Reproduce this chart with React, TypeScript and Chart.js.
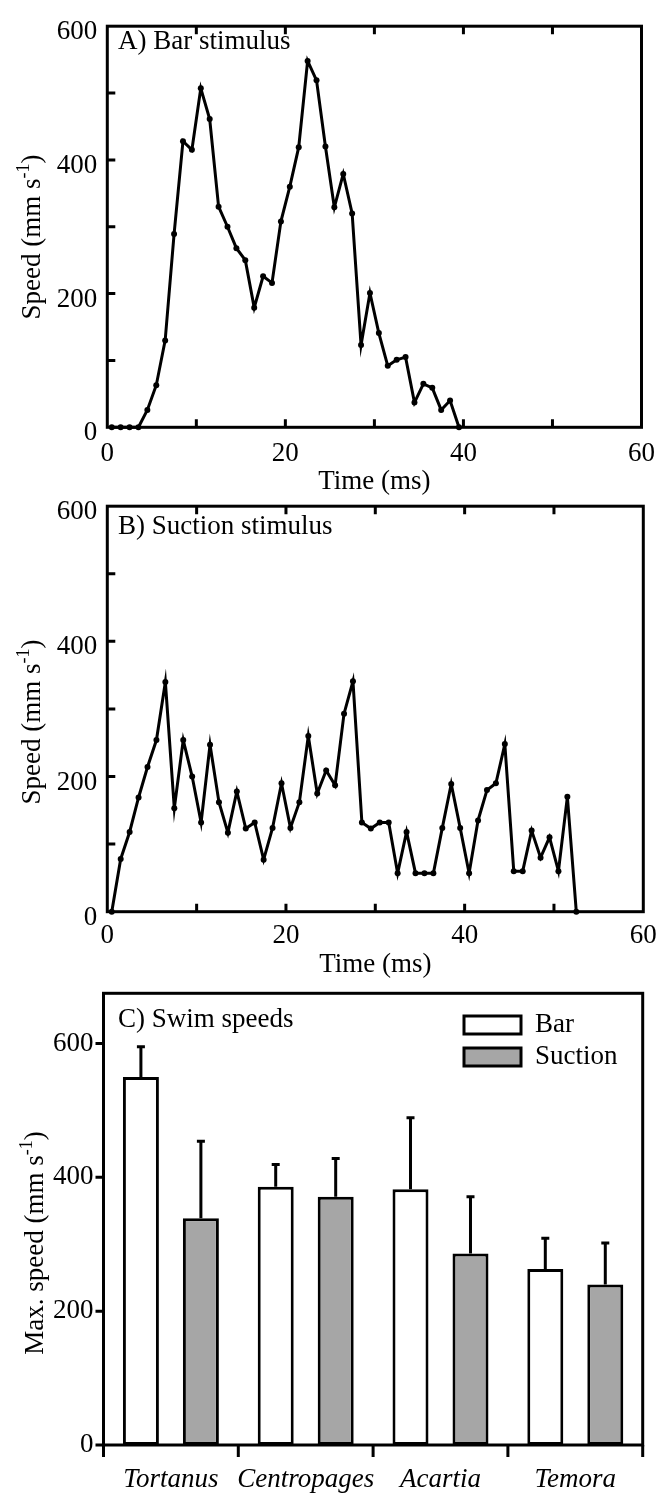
import React, { useEffect, useRef } from 'react';
import { Chart, registerables } from 'chart.js';

Chart.register(...registerables);

const FONT = "'Liberation Serif', 'Times New Roman', Times, serif";

// Panel A: bar stimulus (time in ms, speed in mm/s)
const timeA = [0.5, 1.5, 2.5, 3.5, 4.5, 5.5, 6.5, 7.5, 8.5, 9.5, 10.5, 11.5, 12.5, 13.5, 14.5, 15.5, 16.5, 17.5, 18.5, 19.5, 20.5, 21.5, 22.5, 23.5, 24.5, 25.5, 26.5, 27.5, 28.5, 29.5, 30.5, 31.5, 32.5, 33.5, 34.5, 35.5, 36.5, 37.5, 38.5, 39.5];
const speedA = [0, 0, 0, 0, 26, 63, 130, 289, 428, 415, 507, 461, 330, 300, 268, 250, 179, 226, 216, 308, 360, 419, 548, 519, 420, 329, 379, 320, 123, 201, 141, 92, 101, 105, 37, 65, 59, 26, 40, 0];

// Panel B: suction stimulus
const timeB = [0.5, 1.5, 2.5, 3.5, 4.5, 5.5, 6.5, 7.5, 8.5, 9.5, 10.5, 11.5, 12.5, 13.5, 14.5, 15.5, 16.5, 17.5, 18.5, 19.5, 20.5, 21.5, 22.5, 23.5, 24.5, 25.5, 26.5, 27.5, 28.5, 29.5, 30.5, 31.5, 32.5, 33.5, 34.5, 35.5, 36.5, 37.5, 38.5, 39.5, 40.5, 41.5, 42.5, 43.5, 44.5, 45.5, 46.5, 47.5, 48.5, 49.5, 50.5, 51.5, 52.5];
const speedB = [0, 78, 118, 169, 214, 254, 340, 153, 254, 200, 132, 247, 162, 117, 178, 123, 132, 77, 124, 190, 124, 162, 260, 175, 209, 187, 293, 341, 132, 123, 132, 132, 57, 118, 57, 57, 57, 124, 189, 124, 57, 135, 180, 190, 248, 60, 60, 120, 80, 110, 60, 170, 0];

// Panel C: max swim speeds
const species = ['Tortanus', 'Centropages', 'Acartia', 'Temora'];
const barMean = [550, 386, 382, 263];
const barSD = [45, 33, 107, 46];
const suctionMean = [339, 371, 286, 240];
const suctionSD = [115, 57, 85, 62];

const W = 665;

const decorPlugin = {
  id: 'decor',
  afterDatasetsDraw(chart: any, _args: any, opts: any) {
    if (!opts || !opts.mode) return;
    const ctx = chart.ctx as CanvasRenderingContext2D;
    const { left, right, top, bottom } = chart.chartArea;
    const xs = chart.scales.x;
    const ys = chart.scales.y;
    ctx.save();
    ctx.strokeStyle = '#000';
    ctx.fillStyle = '#000';
    ctx.lineWidth = 3;
    ctx.lineCap = 'butt';

    if (opts.mode === 'bar') {
      // error bars (upper only)
      chart.data.datasets.forEach((ds: any, di: number) => {
        const meta = chart.getDatasetMeta(di);
        const sds = opts.errors[di];
        meta.data.forEach((el: any, i: number) => {
          const x = el.x;
          const y0 = el.y;
          const y1 = ys.getPixelForValue(ds.data[i] + sds[i]);
          ctx.beginPath();
          ctx.moveTo(x, y0);
          ctx.lineTo(x, y1);
          ctx.moveTo(x - 4, y1);
          ctx.lineTo(x + 4, y1);
          ctx.stroke();
        });
      });
    }

    // frame
    ctx.lineWidth = 3;
    ctx.strokeRect(left, top, right - left, bottom - top);
    ctx.beginPath();
    if (opts.mode === 'line') {
      xs.ticks.forEach((t: any) => {
        const px = xs.getPixelForValue(t.value);
        if (px <= left + 1 || px >= right - 1) return;
        ctx.moveTo(px, bottom);
        ctx.lineTo(px, bottom - 8);
        ctx.moveTo(px, top);
        ctx.lineTo(px, top + 8);
      });
      ys.ticks.forEach((t: any) => {
        const py = ys.getPixelForValue(t.value);
        if (py >= bottom - 1 || py <= top + 1) return;
        ctx.moveTo(left, py);
        ctx.lineTo(left + 8, py);
      });
    } else {
      ys.ticks.forEach((t: any) => {
        const py = ys.getPixelForValue(t.value);
        ctx.moveTo(left, py);
        ctx.lineTo(left - 8, py);
      });
      const n = chart.data.labels.length;
      const cw = (right - left) / n;
      for (let i = 0; i <= n; i++) {
        const px = left + i * cw;
        ctx.moveTo(px, bottom);
        ctx.lineTo(px, bottom + 12);
      }
    }
    ctx.stroke();

    // panel label
    ctx.font = `27px ${FONT}`;
    ctx.textAlign = 'left';
    ctx.textBaseline = 'middle';
    ctx.fillText(opts.label, opts.labelX, opts.labelY);

    // y title with superscript
    const t = opts.yTitle;
    ctx.save();
    ctx.translate(t.x, t.y);
    ctx.rotate(-Math.PI / 2);
    const mainFont = `27px ${FONT}`;
    const supFont = `18px ${FONT}`;
    ctx.font = mainFont;
    const w1 = ctx.measureText(t.main).width;
    const w3 = ctx.measureText(t.tail).width;
    ctx.font = supFont;
    const w2 = ctx.measureText(t.sup).width;
    let x0 = -(w1 + w2 + w3) / 2;
    ctx.textAlign = 'left';
    ctx.textBaseline = 'middle';
    ctx.font = mainFont;
    ctx.fillText(t.main, x0, 0);
    x0 += w1;
    ctx.font = supFont;
    ctx.fillText(t.sup, x0, -9);
    x0 += w2;
    ctx.font = mainFont;
    ctx.fillText(t.tail, x0, 0);
    ctx.restore();

    // legend
    if (opts.legend) {
      opts.legend.forEach((item: any) => {
        ctx.fillStyle = item.fill;
        ctx.fillRect(item.x, item.y - 9, 57, 18);
        ctx.strokeStyle = '#000';
        ctx.lineWidth = 3;
        ctx.strokeRect(item.x, item.y - 9, 57, 18);
        ctx.fillStyle = '#000';
        ctx.font = `27px ${FONT}`;
        ctx.textAlign = 'left';
        ctx.textBaseline = 'middle';
        ctx.fillText(item.text, item.x + 71, item.y);
      });
    }
    ctx.restore();
  },
};

function lineConfig(times: number[], speeds: number[], L: any): any {
  return {
    type: 'line',
    data: {
      datasets: [
        {
          data: times.map((t, i) => ({ x: t, y: speeds[i] })),
          borderColor: '#000',
          borderWidth: 3,
          pointRadius: 3,
          pointBackgroundColor: '#000',
          pointBorderWidth: 0,
          tension: 0,
          clip: false,
        },
      ],
    },
    options: {
      animation: false,
      responsive: false,
      events: [],
      layout: { padding: { left: 0, right: W - 643.3, top: L.top, bottom: 0 } },
      plugins: {
        legend: { display: false },
        tooltip: { enabled: false },
        decor: {
          mode: 'line',
          label: L.label,
          labelX: 118,
          labelY: L.labelY,
          yTitle: { x: 33, y: L.titleY, main: 'Speed (mm s', sup: '-1', tail: ')' },
        },
      },
      scales: {
        x: {
          type: 'linear',
          min: 0,
          max: 60,
          grid: { display: false, drawTicks: false },
          border: { display: false },
          ticks: {
            stepSize: 10,
            autoSkip: false,
            maxRotation: 0,
            padding: L.xPad,
            color: '#000',
            font: { family: FONT, size: 27 },
            callback: (v: number) => (v % 20 === 0 ? String(v) : ''),
          },
          title: {
            display: true,
            text: 'Time (ms)',
            color: '#000',
            font: { family: FONT, size: 27 },
            padding: { top: 0, bottom: L.titlePad },
          },
          afterFit: (s: any) => {
            s.height = L.xHeight;
          },
        },
        y: {
          type: 'linear',
          min: 0,
          max: 600,
          grid: { display: false, drawTicks: false },
          border: { display: false },
          ticks: {
            stepSize: 100,
            autoSkip: false,
            padding: 10,
            labelOffset: 6,
            color: '#000',
            font: { family: FONT, size: 27 },
            callback: (v: number) => (v % 200 === 0 ? String(v) : ''),
          },
          afterFit: (s: any) => {
            s.width = 107.3;
          },
        },
      },
    },
    plugins: [decorPlugin],
  };
}

function barConfig(): any {
  return {
    type: 'bar',
    data: {
      labels: species,
      datasets: [
        {
          label: 'Bar',
          data: barMean,
          backgroundColor: '#ffffff',
          borderColor: '#000',
          borderWidth: 3,
          borderSkipped: false,
          categoryPercentage: 0.89,
          barPercentage: 0.6,
        },
        {
          label: 'Suction',
          data: suctionMean,
          backgroundColor: '#a6a6a6',
          borderColor: '#000',
          borderWidth: 3,
          borderSkipped: false,
          categoryPercentage: 0.89,
          barPercentage: 0.6,
        },
      ],
    },
    options: {
      animation: false,
      responsive: false,
      events: [],
      layout: { padding: { left: 0, right: W - 642.7, top: 33.3, bottom: 0 } },
      plugins: {
        legend: { display: false },
        tooltip: { enabled: false },
        decor: {
          mode: 'bar',
          errors: [barSD, suctionSD],
          label: 'C) Swim speeds',
          labelX: 118,
          labelY: 60,
          yTitle: { x: 36, y: 283, main: 'Max. speed (mm s', sup: '-1', tail: ')' },
          legend: [
            { text: 'Bar', fill: '#ffffff', x: 464, y: 65 },
            { text: 'Suction', fill: '#a6a6a6', x: 464, y: 97 },
          ],
        },
      },
      scales: {
        x: {
          type: 'category',
          grid: { display: false, drawTicks: false },
          border: { display: false },
          ticks: {
            autoSkip: false,
            maxRotation: 0,
            padding: 19,
            color: '#000',
            font: { family: FONT, size: 27, style: 'italic' },
          },
          afterFit: (s: any) => {
            s.height = 48;
          },
        },
        y: {
          type: 'linear',
          min: 0,
          max: 675,
          grid: { display: false, drawTicks: false },
          border: { display: false },
          ticks: {
            stepSize: 200,
            autoSkip: false,
            padding: 10,
            color: '#000',
            font: { family: FONT, size: 27 },
          },
          afterBuildTicks: (s: any) => {
            s.ticks = s.ticks.filter((t: any) => t.value % 200 === 0);
          },
          afterFit: (s: any) => {
            s.width = 103.5;
          },
        },
      },
    },
    plugins: [decorPlugin],
  };
}

export default function App() {
  const refA = useRef<HTMLCanvasElement>(null);
  const refB = useRef<HTMLCanvasElement>(null);
  const refC = useRef<HTMLCanvasElement>(null);

  useEffect(() => {
    const a = new Chart(
      refA.current as HTMLCanvasElement,
      lineConfig(timeA, speedA, {
        top: 13.3,
        xHeight: 500 - 427.3,
        xPad: 10,
        titlePad: 1.4,
        label: 'A) Bar stimulus',
        labelY: 42,
        titleY: 237,
      })
    );
    const b = new Chart(
      refB.current as HTMLCanvasElement,
      lineConfig(timeB, speedB, {
        top: 18.3,
        xHeight: 510 - 431.7,
        xPad: 8,
        titlePad: 8.4,
        label: 'B) Suction stimulus',
        labelY: 47,
        titleY: 242,
      })
    );
    const c = new Chart(refC.current as HTMLCanvasElement, barConfig());
    return () => {
      a.destroy();
      b.destroy();
      c.destroy();
    };
  }, []);

  const base: React.CSSProperties = { position: 'absolute', left: 0, display: 'block' };
  return (
    <div style={{ position: 'absolute', left: 0, top: 0, width: W, height: 1493, background: '#fff' }}>
      <canvas ref={refA} width={W} height={500} style={{ ...base, top: 0, width: W, height: 500 }} />
      <canvas ref={refB} width={W} height={510} style={{ ...base, top: 480, width: W, height: 510 }} />
      <canvas ref={refC} width={W} height={533} style={{ ...base, top: 960, width: W, height: 533 }} />
    </div>
  );
}
